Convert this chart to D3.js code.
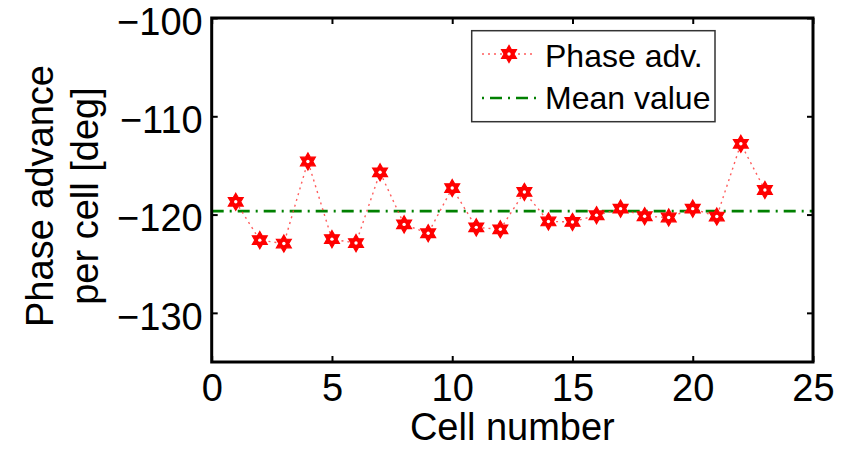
<!DOCTYPE html>
<html>
<head>
<meta charset="utf-8">
<script src="https://cdn.jsdelivr.net/npm/d3@7"></script>
<style>
  html, body { margin: 0; padding: 0; background: #fff; }
  svg { display: block; }
  text { font-family: "Liberation Sans", Arial, Helvetica, sans-serif; fill: #000; }
</style>
</head>
<body>
<svg id="chart" width="844" height="449"></svg>
<script>
// ---- data ----
const cells = [1,2,3,4,5,6,7,8,9,10,11,12,13,14,15,16,17,18,19,20,21,22,23];
const phaseAdv = [-118.7,-122.6,-122.95,-114.6,-122.5,-122.9,-115.7,-121.0,-121.9,-117.3,
                  -121.3,-121.5,-117.7,-120.7,-120.75,-120.07,-119.4,-120.17,-120.3,-119.4,
                  -120.2,-112.8,-117.5];
const xTicks = [0,5,10,15,20,25];
const yTicks = [-130,-120,-110,-100];
const xDomain = [0,25];
const yDomain = [-135,-100];
const seriesNames = ["Phase adv.","Mean value"];
const yLabelLines = ["Phase advance","per cell [deg]"];
const xLabel = "Cell number";

// ---- layout ----
const L = 211.7, R = 813, T = 18, B = 362;
const svg = d3.select("#chart");
const x = d3.scaleLinear().domain(xDomain).range([L, R]);
const y = d3.scaleLinear().domain(yDomain).range([B, T]);
const fmt = d3.format("d");
const meanValue = d3.mean(phaseAdv);

const red = "#ff0000", green = "#008000";

function hexagram(R0) {
  const r0 = R0 / Math.sqrt(3);
  const pts = [];
  for (let i = 0; i < 12; i++) {
    const a = -Math.PI / 2 + i * Math.PI / 6;
    const rr = i % 2 === 0 ? R0 : r0;
    pts.push([rr * Math.cos(a), rr * Math.sin(a)]);
  }
  return "M" + pts.map(p => p[0].toFixed(2) + "," + p[1].toFixed(2)).join("L") + "Z";
}
const starPath = hexagram(8.6);

function drawStar(g, cx, cy) {
  g.append("path").attr("d", starPath).attr("transform", `translate(${cx},${cy})`)
    .attr("fill", red).attr("stroke", red).attr("stroke-width", 1.2).attr("stroke-linejoin", "miter");
  g.append("circle").attr("cx", cx).attr("cy", cy).attr("r", 1.7).attr("fill", "#fff");
}

// ---- mean line ----
svg.append("line")
  .attr("x1", x(xDomain[0])).attr("x2", x(xDomain[1]))
  .attr("y1", y(meanValue)).attr("y2", y(meanValue))
  .attr("stroke", green).attr("stroke-width", 2.6)
  .attr("stroke-dasharray", "12,6,2,6");

// ---- data line ----
const line = d3.line().x((d, i) => x(cells[i])).y(d => y(d));
svg.append("path").datum(phaseAdv)
  .attr("d", line).attr("fill", "none")
  .attr("stroke", "#ff4040").attr("stroke-width", 1.4)
  .attr("stroke-dasharray", "2,4").attr("stroke-opacity", 0.85);

const mg = svg.append("g");
phaseAdv.forEach((v, i) => drawStar(mg, x(cells[i]), y(v)));

// ---- axes ----
const fontSize = 38;
function styleAxis(g, showLabels) {
  g.select(".domain").remove();
  g.selectAll(".tick line").attr("stroke", "#000").attr("stroke-width", 2);
  g.selectAll(".tick text").attr("font-size", fontSize).attr("font-family", '"Liberation Sans", Arial, Helvetica, sans-serif')
    .attr("fill", "#000");
  if (!showLabels) g.selectAll(".tick text").remove();
}
svg.append("g").attr("transform", `translate(0,${B})`)
  .call(d3.axisBottom(x).tickValues(xTicks).tickFormat(fmt).tickSizeInner(-6).tickSizeOuter(0).tickPadding(12))
  .call(g => styleAxis(g, true));
svg.append("g").attr("transform", `translate(0,${T})`)
  .call(d3.axisTop(x).tickValues(xTicks).tickSizeInner(-6).tickSizeOuter(0))
  .call(g => styleAxis(g, false));
svg.append("g").attr("transform", `translate(${L},0)`)
  .call(d3.axisLeft(y).tickValues(yTicks).tickFormat(fmt).tickSizeInner(-6).tickSizeOuter(0).tickPadding(9))
  .call(g => { styleAxis(g, true); g.selectAll(".tick text").attr("dy", "0.43em"); });
svg.append("g").attr("transform", `translate(${R},0)`)
  .call(d3.axisRight(y).tickValues(yTicks).tickSizeInner(-6).tickSizeOuter(0))
  .call(g => styleAxis(g, false));

// box
svg.append("rect").attr("x", L).attr("y", T).attr("width", R - L).attr("height", B - T)
  .attr("fill", "none").attr("stroke", "#000").attr("stroke-width", 3);

// ---- axis labels ----
svg.append("text").attr("x", (L + R) / 2).attr("y", 440).attr("text-anchor", "middle")
  .attr("font-size", fontSize).text(xLabel);
const yl = svg.append("g").attr("transform", "translate(0,196) rotate(-90)");
yl.append("text").attr("x", 0).attr("y", 53).attr("text-anchor", "middle").attr("font-size", fontSize).text(yLabelLines[0]);
yl.append("text").attr("x", 0).attr("y", 98).attr("text-anchor", "middle").attr("font-size", fontSize).text(yLabelLines[1]);

// ---- legend ----
const lg = svg.append("g");
lg.append("rect").attr("x", 471.7).attr("y", 30.7).attr("width", 715 - 471.7).attr("height", 121.7 - 30.7)
  .attr("fill", "#fff").attr("stroke", "#333").attr("stroke-width", 1.5);
const ly1 = 54, ly2 = 98;
lg.append("line").attr("x1", 482).attr("x2", 536).attr("y1", ly1).attr("y2", ly1)
  .attr("stroke", "#ff4040").attr("stroke-width", 1.4).attr("stroke-dasharray", "2,4").attr("stroke-opacity", 0.85);
drawStar(lg, 509, ly1);
lg.append("line").attr("x1", 482).attr("x2", 536).attr("y1", ly2).attr("y2", ly2)
  .attr("stroke", green).attr("stroke-width", 2.6).attr("stroke-dasharray", "2,6,12,6");
lg.append("text").attr("x", 545).attr("y", 67).attr("font-size", 32).text(seriesNames[0]);
lg.append("text").attr("x", 545).attr("y", 109).attr("font-size", 32).text(seriesNames[1]);
</script>
</body>
</html>
